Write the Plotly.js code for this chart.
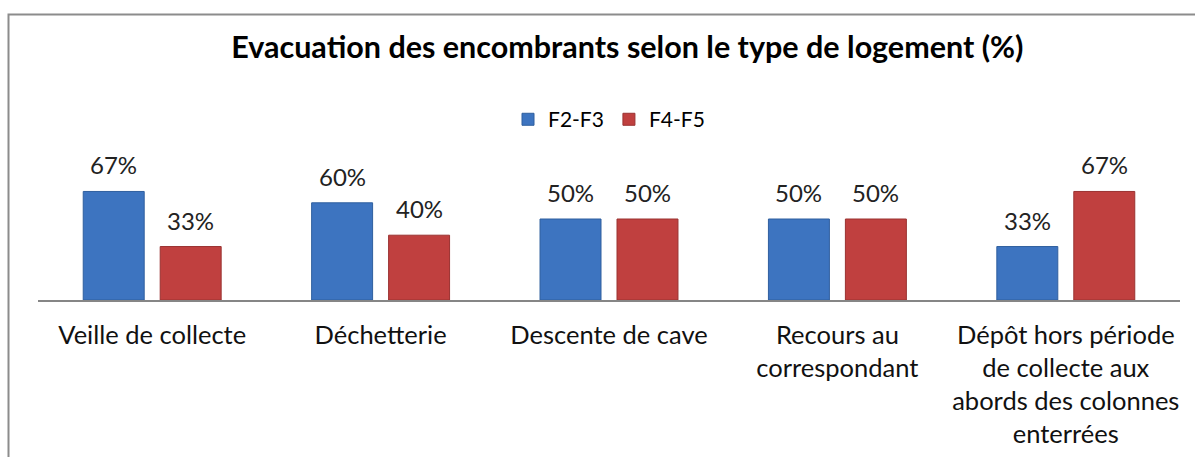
<!DOCTYPE html>
<html><head><meta charset="utf-8">
<script src="https://cdn.plot.ly/plotly-3.0.1.min.js"></script>
<style>html,body{margin:0;padding:0;background:#fff;}#chart{width:1195px;height:457px;}</style>
</head><body><div id="chart"></div>
<script>
const categories = ["Veille de collecte", "Déchetterie", "Descente de cave", "Recours au<br>correspondant", "Dépôt hors période<br>de collecte aux<br>abords des colonnes<br>enterrées"];
const seriesNames = ["F2-F3", "F4-F5"];
const f2f3 = [67, 60, 50, 50, 33];
const f4f5 = [33, 40, 50, 50, 67];
const colors = ["#3d74c0", "#c0403f"];
const lineColors = ["#2f5f9e", "#9a3231"];

const FONT = "Lato, 'Open Sans', sans-serif";
const traces = [f2f3, f4f5].map((vals, i) => ({
  type: "bar", name: seriesNames[i], x: categories, y: vals,
  marker: {color: colors[i], line: {color: lineColors[i], width: 1}},
  hoverinfo: "skip"
}));

const annotations = [];
[f2f3, f4f5].forEach((vals, i) => {
  vals.forEach((v, j) => {
    annotations.push({
      x: categories[j], y: v, xref: "x", yref: "y",
      text: v + "%", showarrow: false, yanchor: "bottom",
      xshift: (i === 0 ? -38.5 : 38.5), yshift: 10,
      font: {family: FONT, size: 24, color: "#222"}
    });
  });
});

const layout = {
  width: 1195, height: 457,
  margin: {l: 38, r: 15, t: 138, b: 157},
  paper_bgcolor: "#fff", plot_bgcolor: "#fff",
  barmode: "group", bargap: 0.326, bargroupgap: 0.208,
  title: {text: "<b>Evacuation des encombrants selon le type de logement (%)</b>",
          x: 0.525, xref: "container", xanchor: "center",
          y: 1 - 47/457, yref: "container", yanchor: "middle",
          font: {family: FONT, size: 30.5, color: "#000"}},
  showlegend: true,
  legend: {orientation: "h", x: 0.5, xanchor: "center", y: 1.24, yanchor: "top",
           font: {family: FONT, size: 21, color: "#000"}, traceorder: "normal"},
  xaxis: {showline: true, linecolor: "#868686", linewidth: 2, ticks: "",
          ticklabelstandoff: 11,
          tickfont: {family: FONT, size: 25.5, color: "#111"}, showgrid: false, fixedrange: true},
  yaxis: {range: [0, 100], visible: false, showgrid: false, zeroline: false, fixedrange: true},
  annotations: annotations,
  shapes: [{type: "rect", xref: "paper", yref: "paper",
            x0: (8.5-38)/1142, x1: 1.2, y0: -2, y1: (300-14.5)/162,
            line: {color: "#8c8c8c", width: 2}, fillcolor: "rgba(0,0,0,0)", layer: "below"}]
};
Plotly.newPlot("chart", traces, layout, {staticPlot: true, displayModeBar: false});
</script></body></html>
